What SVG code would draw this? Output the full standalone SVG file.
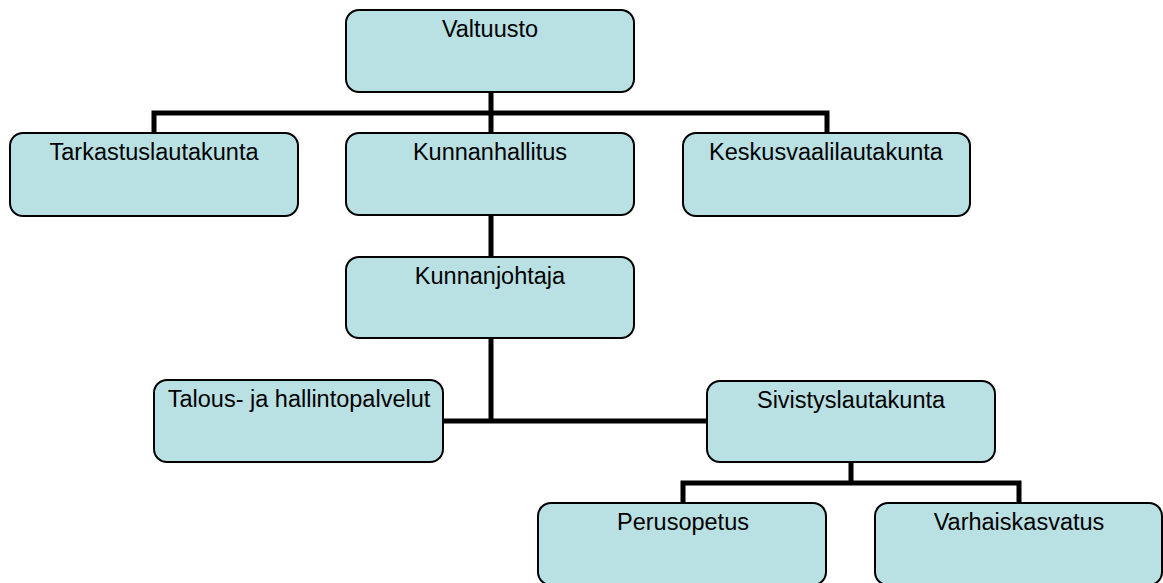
<svg xmlns="http://www.w3.org/2000/svg" width="1163" height="583" viewBox="0 0 1163 583">
<style>
.box{fill:#B9E0E3;stroke:#000;stroke-width:2}
.lbl{font-family:"Liberation Sans",Arial,sans-serif;font-size:23.5px;fill:#000;text-anchor:middle}
.con{fill:none;stroke:#000;stroke-width:5;stroke-linejoin:miter;stroke-linecap:butt}
</style>
<rect width="1163" height="583" fill="#fff"/>
<g id="connectors">
<path class="con" d="M491 92V133M154 133V113H827V133"/>
<path class="con" d="M491 215V257"/>
<path class="con" d="M491 338V421M443 421H707"/>
<path class="con" d="M851 462V483M683 503V483H1019V503"/>
</g>
<g id="valtuusto"><rect class="box" x="346" y="10" width="288" height="82" rx="13"/><text class="lbl" x="490" y="37">Valtuusto</text></g>
<g id="tarkastuslautakunta"><rect class="box" x="10" y="133" width="288" height="83" rx="13"/><text class="lbl" x="154" y="160">Tarkastuslautakunta</text></g>
<g id="kunnanhallitus"><rect class="box" x="346" y="133" width="288" height="82" rx="13"/><text class="lbl" x="490" y="160">Kunnanhallitus</text></g>
<g id="keskusvaalilautakunta"><rect class="box" x="683" y="133" width="287" height="83" rx="13"/><text class="lbl" x="826" y="160">Keskusvaalilautakunta</text></g>
<g id="kunnanjohtaja"><rect class="box" x="346" y="257" width="288" height="81" rx="13"/><text class="lbl" x="490" y="284">Kunnanjohtaja</text></g>
<g id="talous"><rect class="box" x="154" y="380" width="289" height="82" rx="13"/><text class="lbl" x="299" y="407">Talous- ja hallintopalvelut</text></g>
<g id="sivistyslautakunta"><rect class="box" x="707" y="381" width="288" height="81" rx="13"/><text class="lbl" x="851" y="408">Sivistyslautakunta</text></g>
<g id="perusopetus"><rect class="box" x="538" y="503" width="288" height="82" rx="13"/><text class="lbl" x="683" y="530">Perusopetus</text></g>
<g id="varhaiskasvatus"><rect class="box" x="875" y="503" width="287" height="82" rx="13"/><text class="lbl" x="1019" y="530">Varhaiskasvatus</text></g>
</svg>
